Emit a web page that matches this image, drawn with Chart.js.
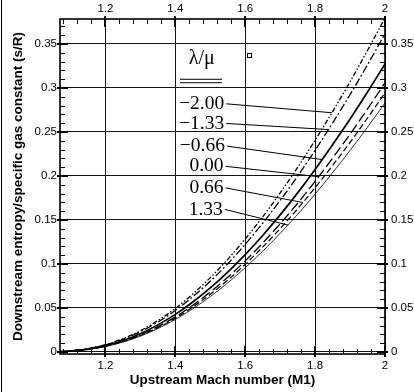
<!DOCTYPE html>
<html>
<head>
<meta charset="utf-8">
<script src="https://cdn.jsdelivr.net/npm/chart.js@4.4.1/dist/chart.umd.min.js"></script>
<style>
  html, body { margin: 0; padding: 0; background: #fff; }
  #wrap { width: 414px; height: 392px; }
</style>
</head>
<body>
<div id="wrap"><canvas id="c" width="414" height="392"></canvas></div>
<script>
// ---------- data ----------
const machNumbers = [1.07, 1.10, 1.15, 1.20, 1.25, 1.30, 1.35, 1.40, 1.45, 1.50,
                     1.55, 1.60, 1.65, 1.70, 1.75, 1.80, 1.85, 1.90, 1.95, 2.00];

const sLambdaMinus200 = [0.0003, 0.0013, 0.0038, 0.0084, 0.0151, 0.0241, 0.0357, 0.0495, 0.0659, 0.0844,
                         0.1053, 0.1284, 0.1536, 0.1807, 0.2097, 0.2406, 0.2732, 0.3071, 0.3427, 0.3796];
const sLambdaMinus133 = [0.0003, 0.0012, 0.0036, 0.0080, 0.0144, 0.0230, 0.0340, 0.0472, 0.0628, 0.0804,
                         0.1003, 0.1223, 0.1463, 0.1722, 0.1998, 0.2292, 0.2602, 0.2925, 0.3264, 0.3616];
const sLambdaMinus066 = [0.0003, 0.0011, 0.0033, 0.0072, 0.0130, 0.0208, 0.0308, 0.0427, 0.0568, 0.0728,
                         0.0908, 0.1107, 0.1324, 0.1558, 0.1808, 0.2074, 0.2355, 0.2647, 0.2954, 0.3272];
const sLambdaZero     = [0.0003, 0.0010, 0.0031, 0.0067, 0.0122, 0.0194, 0.0288, 0.0399, 0.0531, 0.0681,
                         0.0849, 0.1035, 0.1238, 0.1457, 0.1690, 0.1939, 0.2202, 0.2475, 0.2762, 0.3059];
const sLambdaPlus066  = [0.0003, 0.0010, 0.0030, 0.0065, 0.0117, 0.0187, 0.0277, 0.0384, 0.0511, 0.0655,
                         0.0817, 0.0996, 0.1192, 0.1402, 0.1627, 0.1867, 0.2120, 0.2382, 0.2659, 0.2945];
const sLambdaPlus133  = [0.0003, 0.0010, 0.0029, 0.0062, 0.0112, 0.0180, 0.0266, 0.0369, 0.0491, 0.0630,
                         0.0785, 0.0958, 0.1145, 0.1348, 0.1564, 0.1794, 0.2037, 0.2290, 0.2555, 0.2830];

const lambdaLabels = ['\u22122.00', '\u22121.33', '\u22120.66', '0.00', '0.66', '1.33'];
const legendTitle = '\u03BB/\u03BC';

const xTickValues = [1.2, 1.4, 1.6, 1.8, 2.0];
const xTickLabels = ['1.2', '1.4', '1.6', '1.8', '2'];
const yTickValues = [0, 0.05, 0.10, 0.15, 0.20, 0.25, 0.30, 0.35];
const yTickLabels = ['0', '0.05', '0.1', '0.15', '0.2', '0.25', '0.3', '0.35'];

const xTitle = 'Upstream Mach number (M1)';
const yTitle = 'Downstream entropy/specific gas constant (s/R)';

// ---------- styling / layout ----------
const seriesValues = [sLambdaMinus200, sLambdaMinus133, sLambdaMinus066, sLambdaZero, sLambdaPlus066, sLambdaPlus133];
const seriesStyles = [
  { width: 1.3, dash: [5, 2, 1.5, 2, 1.5, 2] },
  { width: 1.3, dash: [8, 2.5, 1.8, 2.5] },
  { width: 1.7, dash: [] },
  { width: 1.3, dash: [10, 4] },
  { width: 1.2, dash: [6, 3] },
  { width: 0.8, dash: [] }
];
// label anchor (right edge of text, in data units) and leader end Mach number
const annotationLayout = {
  labels: [
    { m: 1.5400, v: 0.2820, leaderEnd: 1.848 },
    { m: 1.5400, v: 0.2597, leaderEnd: 1.838 },
    { m: 1.5420, v: 0.2340, leaderEnd: 1.820 },
    { m: 1.5380, v: 0.2110, leaderEnd: 1.810 },
    { m: 1.5380, v: 0.1865, leaderEnd: 1.765 },
    { m: 1.5360, v: 0.1620, leaderEnd: 1.722 }
  ],
  header: { m: 1.4755, v: 0.3330 },
  underline: { m0: 1.4134, m1: 1.5336, v0: 0.3099, v1: 0.3060 },
  marker: { m: 1.6108, v: 0.3375 }
};

const tickFont = { family: "'Liberation Sans', Arial, sans-serif", size: 11.5 };
const titleFont = { family: "'Liberation Sans', Arial, sans-serif", size: 13.5, weight: 'bold' };
const serifFont = "'Liberation Serif', 'Times New Roman', serif";

const datasets = seriesValues.map((vals, i) => ({
  label: lambdaLabels[i],
  data: machNumbers.map((m, j) => ({ x: m, y: vals[j] })),
  borderColor: '#000',
  borderWidth: seriesStyles[i].width,
  borderDash: seriesStyles[i].dash,
  pointRadius: 0,
  fill: false,
  cubicInterpolationMode: 'monotone'
}));

function interp(vals, m) {
  for (let j = 0; j < machNumbers.length - 1; j++) {
    if (m >= machNumbers[j] && m <= machNumbers[j + 1]) {
      const t = (m - machNumbers[j]) / (machNumbers[j + 1] - machNumbers[j]);
      return vals[j] + t * (vals[j + 1] - vals[j]);
    }
  }
  return vals[vals.length - 1];
}

const setTicks = (values) => (scale) => { scale.ticks = values.map(v => ({ value: v })); };

const framePlugin = {
  id: 'frame',
  afterDraw(chart) {
    const { ctx, chartArea: a, scales } = chart;
    const xs = scales.x, ys = scales.y;
    ctx.save();
    // outer left frame line
    ctx.strokeStyle = '#000';
    ctx.lineWidth = 1;
    ctx.beginPath(); ctx.moveTo(1.5, 0); ctx.lineTo(1.5, 392); ctx.stroke();

    // plot border
    ctx.lineWidth = 1.6;
    ctx.strokeRect(a.left, a.top, a.right - a.left, a.bottom - a.top);

    // minor ticks (inward)
    ctx.lineWidth = 1;
    ctx.beginPath();
    for (let k = 27; k <= 50; k++) {
      const m = k * 0.04;
      if (m < xs.min || m > xs.max + 1e-9) continue;
      const px = Math.round(xs.getPixelForValue(m)) + 0.5;
      ctx.moveTo(px, a.top); ctx.lineTo(px, a.top + 5);
      ctx.moveTo(px, a.bottom); ctx.lineTo(px, a.bottom - 5);
    }
    for (let k = 0; k <= 37; k++) {
      const v = k * 0.01;
      const py = Math.round(ys.getPixelForValue(v)) + 0.5;
      ctx.moveTo(a.left, py); ctx.lineTo(a.left + 5, py);
      ctx.moveTo(a.right, py); ctx.lineTo(a.right - 5, py);
    }
    ctx.stroke();
    // major ticks
    ctx.lineWidth = 2;
    ctx.beginPath();
    xTickValues.forEach(m => {
      const px = Math.round(xs.getPixelForValue(m));
      ctx.moveTo(px, a.top - 3); ctx.lineTo(px, a.top + 8);
      ctx.moveTo(px, a.bottom + 3); ctx.lineTo(px, a.bottom - 8);
    });
    yTickValues.forEach(v => {
      const py = Math.round(ys.getPixelForValue(v));
      ctx.moveTo(a.left - 3, py); ctx.lineTo(a.left + 8, py);
      ctx.moveTo(a.right + 3, py); ctx.lineTo(a.right - 8, py);
    });
    ctx.stroke();

    // annotations
    ctx.fillStyle = '#000';
    ctx.font = '19.5px ' + serifFont;
    ctx.textAlign = 'right';
    ctx.textBaseline = 'middle';
    ctx.lineWidth = 1;
    annotationLayout.labels.forEach((lab, i) => {
      const x0 = xs.getPixelForValue(lab.m);
      const y0 = ys.getPixelForValue(lab.v);
      ctx.fillText(lambdaLabels[i], x0, y0);
      const x1 = xs.getPixelForValue(lab.leaderEnd);
      const y1 = ys.getPixelForValue(interp(seriesValues[i], lab.leaderEnd));
      ctx.beginPath(); ctx.moveTo(x0 + 2, y0); ctx.lineTo(x1, y1); ctx.stroke();
    });
    // header
    ctx.font = '20px ' + serifFont;
    ctx.textAlign = 'center';
    ctx.fillText(legendTitle, xs.getPixelForValue(annotationLayout.header.m), ys.getPixelForValue(annotationLayout.header.v));
    const u = annotationLayout.underline;
    ctx.beginPath();
    [u.v0, u.v1].forEach(v => {
      const py = ys.getPixelForValue(v);
      ctx.moveTo(xs.getPixelForValue(u.m0), py); ctx.lineTo(xs.getPixelForValue(u.m1), py);
    });
    ctx.stroke();
    const mk = annotationLayout.marker;
    ctx.strokeRect(Math.round(xs.getPixelForValue(mk.m)) - 1.5, Math.round(ys.getPixelForValue(mk.v)) - 1.5, 4, 4);
    ctx.restore();
  }
};

new Chart(document.getElementById('c'), {
  type: 'line',
  data: { datasets },
  options: {
    responsive: false,
    animation: false,
    devicePixelRatio: 1,
    layout: { padding: 0 },
    plugins: { legend: { display: false }, tooltip: { enabled: false } },
    scales: {
      x: {
        type: 'linear', position: 'bottom', min: 1.07, max: 2.0,
        afterBuildTicks: setTicks(xTickValues),
        afterFit: s => { s.height = 38; },
        grid: { color: '#111', lineWidth: 1, drawTicks: false },
        border: { display: false },
        ticks: { padding: 5, color: '#000', font: tickFont, maxRotation: 0,
                 callback: (v) => xTickLabels[xTickValues.findIndex(t => Math.abs(t - v) < 1e-6)] },
        title: { display: true, text: xTitle, color: '#000', font: titleFont, padding: { top: 0, bottom: 4 } }
      },
      x2: {
        type: 'linear', position: 'top', min: 1.07, max: 2.0,
        afterBuildTicks: setTicks(xTickValues),
        afterFit: s => { s.height = 19; },
        grid: { display: false, drawTicks: false },
        border: { display: false },
        ticks: { padding: 3, color: '#000', font: tickFont, maxRotation: 0,
                 callback: (v) => xTickLabels[xTickValues.findIndex(t => Math.abs(t - v) < 1e-6)] }
      },
      y: {
        type: 'linear', position: 'left', min: -0.0023, max: 0.3784,
        afterBuildTicks: setTicks(yTickValues),
        afterFit: s => { s.width = 60; },
        grid: { color: '#111', lineWidth: 1, drawTicks: false },
        border: { display: false },
        ticks: { padding: 3, color: '#000', font: tickFont,
                 callback: (v) => yTickLabels[yTickValues.findIndex(t => Math.abs(t - v) < 1e-6)] },
        title: { display: true, text: yTitle, color: '#000', font: titleFont, padding: { top: 10, bottom: 0 } }
      },
      y2: {
        type: 'linear', position: 'right', min: -0.0023, max: 0.3784,
        afterBuildTicks: setTicks(yTickValues),
        afterFit: s => { s.width = 29; },
        grid: { display: false, drawTicks: false },
        border: { display: false },
        ticks: { padding: 6, color: '#000', font: tickFont,
                 callback: (v) => yTickLabels[yTickValues.findIndex(t => Math.abs(t - v) < 1e-6)] }
      }
    }
  },
  plugins: [framePlugin]
});
</script>
</body>
</html>
